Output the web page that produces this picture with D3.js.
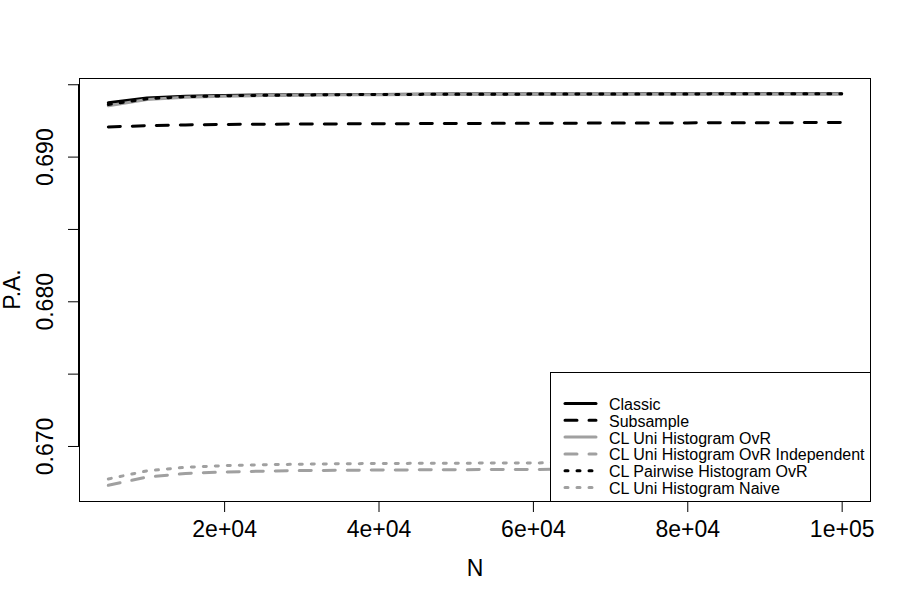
<!DOCTYPE html>
<html>
<head>
<meta charset="utf-8">
<script src="https://cdn.jsdelivr.net/npm/d3@7"></script>
<style>
  body { margin: 0; background: #fff; }
  text { font-family: "Liberation Sans", Arial, Helvetica, sans-serif; }
</style>
</head>
<body>
<svg id="chart" width="912" height="600"></svg>
<script>
var N = [5000, 10000, 15000, 20000, 25000, 30000, 35000, 40000, 45000, 50000,
         55000, 60000, 65000, 70000, 75000, 80000, 85000, 90000, 95000, 100000];

var classic = [0.69372, 0.69405, 0.69417, 0.69423, 0.69426, 0.69428, 0.69429, 0.69430, 0.69431, 0.69432,
               0.69432, 0.69433, 0.69433, 0.69433, 0.69434, 0.69434, 0.69434, 0.69434, 0.69435, 0.69435];
var subsample = [0.69205, 0.69214, 0.69219, 0.69222, 0.69224, 0.69225, 0.69226, 0.69227, 0.69228, 0.69229,
                 0.69230, 0.69230, 0.69231, 0.69232, 0.69232, 0.69233, 0.69234, 0.69234, 0.69235, 0.69236];
var uniOvR = [0.69352, 0.69395, 0.69411, 0.69418, 0.69422, 0.69425, 0.69427, 0.69428, 0.69429, 0.69430,
              0.69430, 0.69431, 0.69431, 0.69432, 0.69432, 0.69432, 0.69433, 0.69433, 0.69433, 0.69433];
var uniOvRIndep = [0.66728, 0.66785, 0.66810, 0.66820, 0.66826, 0.66830, 0.66832, 0.66834, 0.66835, 0.66836,
                   0.66837, 0.66838, 0.66839, 0.66839, 0.66840, 0.66840, 0.66841, 0.66841, 0.66841, 0.66842];
var pairwiseOvR = [0.69360, 0.69400, 0.69414, 0.69420, 0.69424, 0.69426, 0.69428, 0.69429, 0.69430, 0.69431,
                   0.69431, 0.69432, 0.69432, 0.69433, 0.69433, 0.69433, 0.69434, 0.69434, 0.69434, 0.69434];
var uniNaive = [0.66772, 0.66828, 0.66853, 0.66864, 0.66870, 0.66874, 0.66877, 0.66879, 0.66880, 0.66881,
                0.66882, 0.66883, 0.66884, 0.66884, 0.66885, 0.66885, 0.66886, 0.66886, 0.66886, 0.66887];

var seriesNames = ["Classic", "Subsample", "CL Uni Histogram OvR", "CL Uni Histogram OvR Independent",
                   "CL Pairwise Histogram OvR", "CL Uni Histogram Naive"];
var seriesValues = [classic, subsample, uniOvR, uniOvRIndep, pairwiseOvR, uniNaive];

var xTicks = [20000, 40000, 60000, 80000, 100000];
var xTickLabels = ["2e+04", "4e+04", "6e+04", "8e+04", "1e+05"];
var yTicks = [0.670, 0.675, 0.680, 0.685, 0.690, 0.695];
var yTickLabels = ["0.670", "", "0.680", "", "0.690", ""];

var svg = d3.select("#chart"),
	pLeft = 79, pRight = 871, pTop = 78, pBottom = 501,
	black = "#000", gray = "#a0a0a0",
	styles = [
		{color: black, dash: null},
		{color: black, dash: "12,12"},
		{color: gray, dash: null},
		{color: gray, dash: "12,12"},
		{color: black, dash: "3,9"},
		{color: gray, dash: "3,9"}
	];

// R style 4% padding
function pad(ext) {
	var d = (ext[1] - ext[0]) * 0.04;
	return [ext[0] - d, ext[1] + d];
}

var allY = d3.merge(seriesValues);
var x = d3.scaleLinear().domain(pad(d3.extent(N))).range([pLeft, pRight]);
var y = d3.scaleLinear().domain(pad(d3.extent(allY))).range([pBottom, pTop]);

var line = d3.line()
	.x(function(d, i) { return x(N[i]); })
	.y(function(d) { return y(d); });

var plot = svg.append("g");
seriesValues.forEach(function(vals, i) {
	plot.append("path")
		.datum(vals)
		.attr("d", line)
		.attr("fill", "none")
		.attr("stroke", styles[i].color)
		.attr("stroke-width", 3)
		.attr("stroke-linecap", "round")
		.attr("stroke-linejoin", "round")
		.attr("stroke-dasharray", styles[i].dash);
});

// axes
var xAxis = svg.append("g")
	.attr("transform", "translate(0," + pBottom + ")")
	.call(d3.axisBottom(x).tickValues(xTicks).tickSize(11)
		.tickFormat(function(d, i) { return xTickLabels[i]; }));
xAxis.select(".domain").attr("d", "M" + x(xTicks[0]) + ",0.5H" + x(xTicks[4]));
xAxis.selectAll("text")
	.attr("font-size", 23)
	.attr("font-family", "Liberation Sans, Arial, sans-serif")
	.attr("fill", "#000")
	.attr("y", 36).attr("dy", null);

var yAxis = svg.append("g")
	.attr("transform", "translate(" + pLeft + ",0)")
	.call(d3.axisLeft(y).tickValues(yTicks).tickSize(11)
		.tickFormat(function(d, i) { return yTickLabels[i]; }));
yAxis.select(".domain").attr("d", "M-0.5," + y(yTicks[0]) + "V" + y(yTicks[5]));
yAxis.selectAll("text")
	.attr("font-size", 23)
	.attr("font-family", "Liberation Sans, Arial, sans-serif")
	.attr("fill", "#000")
	.attr("text-anchor", "middle")
	.attr("x", null).attr("dy", null)
	.attr("transform", "translate(-26,0) rotate(-90)");

// legend (white background covers lines)
var lg = svg.append("g");
lg.append("rect")
	.attr("x", 550.5).attr("y", 372.5)
	.attr("width", pRight - 551).attr("height", pBottom - 372)
	.attr("fill", "#fff").attr("stroke", "#000").attr("stroke-width", 1);
seriesNames.forEach(function(name, i) {
	var ly = 403.5 + i * 16.8;
	lg.append("line")
		.attr("x1", 565).attr("x2", 596).attr("y1", ly).attr("y2", ly)
		.attr("stroke", styles[i].color)
		.attr("stroke-width", 3)
		.attr("stroke-linecap", "round")
		.attr("stroke-dasharray", styles[i].dash);
	lg.append("text")
		.attr("x", 609).attr("y", ly + 6.5)
		.attr("font-size", 16)
		.text(name);
});

// plot box
svg.append("rect")
	.attr("x", pLeft + 0.5).attr("y", pTop + 0.5)
	.attr("width", pRight - pLeft - 1).attr("height", pBottom - pTop)
	.attr("fill", "none").attr("stroke", "#000");

svg.append("text")
	.attr("x", (pLeft + pRight) / 2).attr("y", 576)
	.attr("text-anchor", "middle").attr("font-size", 23)
	.text("N");
svg.append("text")
	.attr("transform", "translate(20," + (pTop + pBottom) / 2 + ") rotate(-90)")
	.attr("text-anchor", "middle").attr("font-size", 23)
	.text("P.A.");
</script>
</body>
</html>
